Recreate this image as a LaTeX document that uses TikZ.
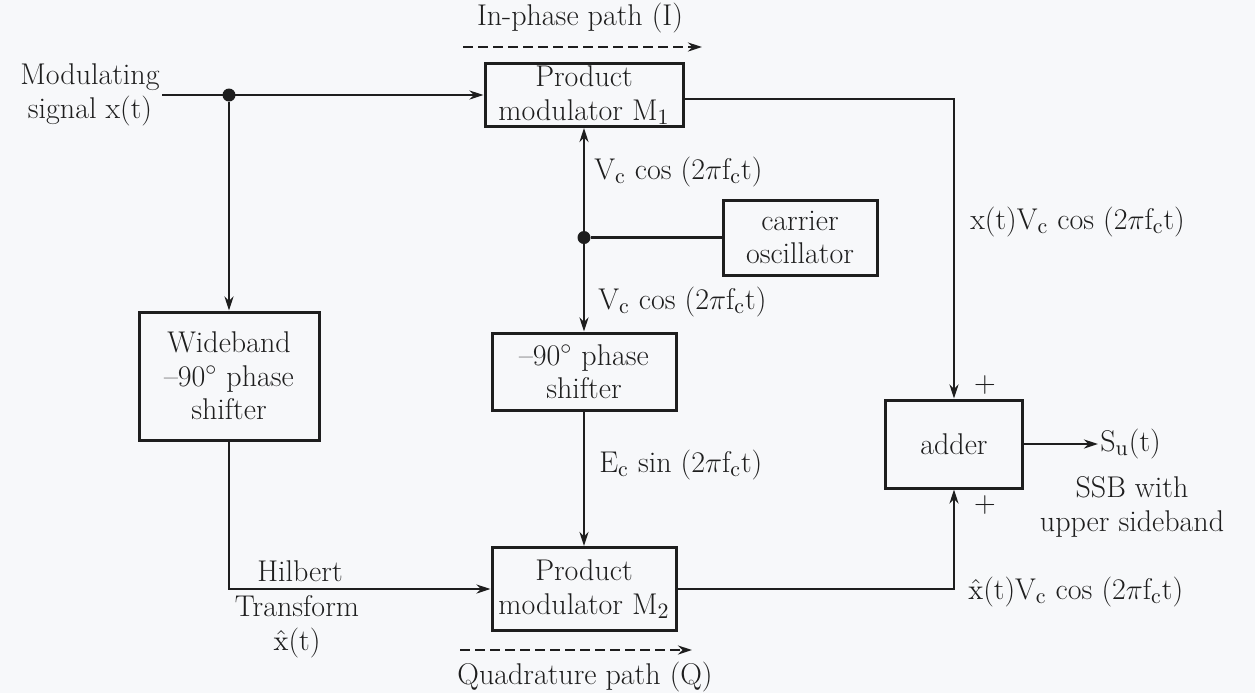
\documentclass[tikz,border=0pt]{standalone}
\usetikzlibrary{arrows.meta}
\definecolor{ink}{RGB}{30,30,30}
\definecolor{paper}{RGB}{247,248,250}
\tikzset{
  blk/.style={draw=ink, line width=1.5pt, align=center, inner sep=1pt, text=ink},
  lbl/.style={text=ink, inner sep=1pt, align=center},
  sig/.style={draw=ink, line width=1.2pt},
  path/.style={draw=ink, line width=1.4pt, dash pattern=on 5pt off 2.5pt},
  jdot/.style={circle, fill=ink, inner sep=0pt, minimum size=6.5pt},
}
\newcommand{\carr}{cos (2$\pi$f$_\mathrm{c}$t)}

\begin{document}
\begin{tikzpicture}[x=0.5pt, y=-0.5pt, >={Stealth[length=7pt,width=4.5pt]}, font=\fontsize{15}{16.8}\selectfont]
\fill[paper] (0,0) rectangle (1255,693);
\useasboundingbox (0,0) rectangle (1255,693);

% blocks
\node[blk, minimum width=99pt, minimum height=31.5pt] (m1) at (584,95) {Product\\modulator M$_1$};
\node[blk, minimum width=90pt, minimum height=64pt] (wb) at (229,376) {Wideband\\--90$^\circ$ phase\\shifter};
\node[blk, minimum width=77pt, minimum height=37.5pt] (osc) at (800,237.5) {carrier\\oscillator};
\node[blk, minimum width=92pt, minimum height=38.5pt] (ps) at (584,371.5) {--90$^\circ$ phase\\shifter};
\node[blk, minimum width=92pt, minimum height=41.5pt] (m2) at (584,589) {Product\\modulator M$_2$};
\node[blk, minimum width=68.5pt, minimum height=44pt] (add) at (954,444) {adder};

% input and output texts
\node[lbl] (inp) at (90,95) {Modulating\\signal x(t)};
\node[lbl, anchor=west] (su) at (1098,444) {S$_\mathrm{u}$(t)};
\node[lbl] (ssb) at (1132,507) {SSB with\\upper sideband};

% junctions
\node[jdot] (j1) at (229,95) {};
\node[jdot] (j2) at (584,237.5) {};

% upper branch
\draw[sig, ->] (inp.east) -- (m1.west);
\draw[sig, ->] (j1) -- (wb.north);
\draw[sig, ->] ([yshift=-2pt]m1.east) -| (add.north);

% carrier
\draw[sig] (osc.west) -- (j2);
\draw[sig, ->] (j2) -- (m1.south);
\draw[sig, ->] (j2) -- (ps.north);
\draw[sig, ->] (ps.south) -- (m2.north);

% lower branch
\draw[sig, ->] (wb.south) |- (m2.west);
\draw[sig, ->] (m2.east) -| (add.south);
\draw[sig, ->] (add.east) -- (su.west);

% labels
\node[lbl, anchor=west] (vc1) at (592,172) {V$_\mathrm{c}$ \carr};
\node[lbl, anchor=west] (vc2) at (596,302) {V$_\mathrm{c}$ \carr};
\node[lbl, anchor=west] (ec) at (597,465) {E$_\mathrm{c}$ sin (2$\pi$f$_\mathrm{c}$t)};
\node[lbl, anchor=west] (upper) at (968,222) {x(t)V$_\mathrm{c}$ \carr};
\node[lbl, anchor=west] (lower) at (966,592) {$\hat{\mathrm{x}}$(t)V$_\mathrm{c}$ \carr};
\node[lbl] (plus1) at (985,385) {+};
\node[lbl] (plus2) at (985,505) {+};
\node[lbl] (hil) at (300,571) {Hilbert};
\node[lbl] (tra) at (297,606) {Transform};
\node[lbl] (xh) at (297,643) {$\hat{\mathrm{x}}$(t)};

% path markers
\node[lbl] (ipath) at (580,18) {In-phase path (I)};
\coordinate (i0) at (463,47);
\coordinate (i1) at (702,47);
\draw[path, ->] (i0) -- (i1);
\node[lbl] (qpath) at (585,677) {Quadrature path (Q)};
\coordinate (q0) at (460,650);
\coordinate (q1) at (692,650);
\draw[path, ->] (q0) -- (q1);
\end{tikzpicture}
\end{document}
